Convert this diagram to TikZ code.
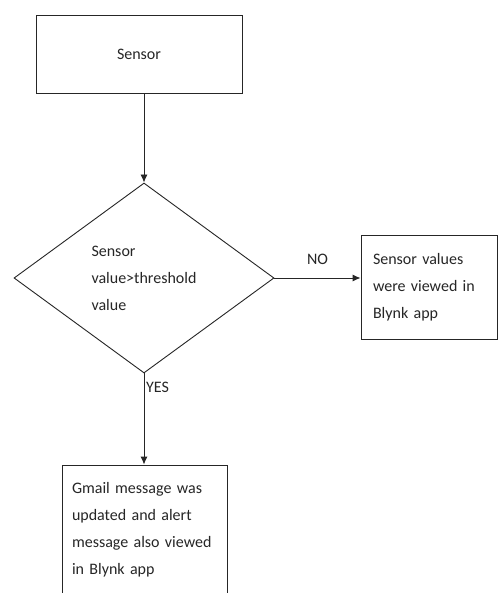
\documentclass[tikz,border=0pt]{standalone}
\usepackage{fontspec}
\setmainfont{Carlito}
\usetikzlibrary{shapes.geometric,arrows.meta}
\definecolor{ink}{gray}{0.15}
\tikzset{
  base/.style={font=\fontsize{16}{27}\selectfont, text=ink},
  box/.style={base, draw=ink, line width=0.9pt, align=left},
  decision/.style={base, draw=ink, line width=0.9pt, shape=diamond, align=left,
    minimum width=260pt, minimum height=190pt, aspect=1.37, inner sep=0pt},
  flow/.style={draw=ink, line width=0.9pt, -{Latex[length=8pt,width=7pt]}},
  lbl/.style={base, inner sep=0pt}
}
\begin{document}
\begin{tikzpicture}[x=1pt,y=-1pt]
\useasboundingbox (0,0) rectangle (498,593);
\clip (0,0) rectangle (498,593);
\fill[white] (0,0) rectangle (498,593);

\node[box, align=center, minimum width=206pt, minimum height=78pt, inner sep=0pt] (sensor) at (139,54) {Sensor};

\node[decision] (dec) at (144,278) {Sensor\\value>threshold\\value};

\node[box, text width=112pt, inner xsep=12pt, minimum height=104pt] (nobox) at (429,287)
  {Sensor values\\were viewed in\\Blynk app};

\node[box, text width=145pt, inner xsep=10pt, minimum height=130pt] (gmail) at (144.5,530)
  {Gmail message was\\updated and alert\\message also viewed\\in Blynk app};

\draw[flow] (dec.north |- sensor.south) -- (dec.north);
\draw[flow] (dec.east) -- node[lbl, above=13pt] {NO} (dec.east -| nobox.west);
\draw[flow] (dec.south) -- (dec.south |- gmail.north);
\node[lbl, anchor=north west] (yes) at ([shift={(2,8)}]dec.south) {YES};
\end{tikzpicture}
\end{document}
